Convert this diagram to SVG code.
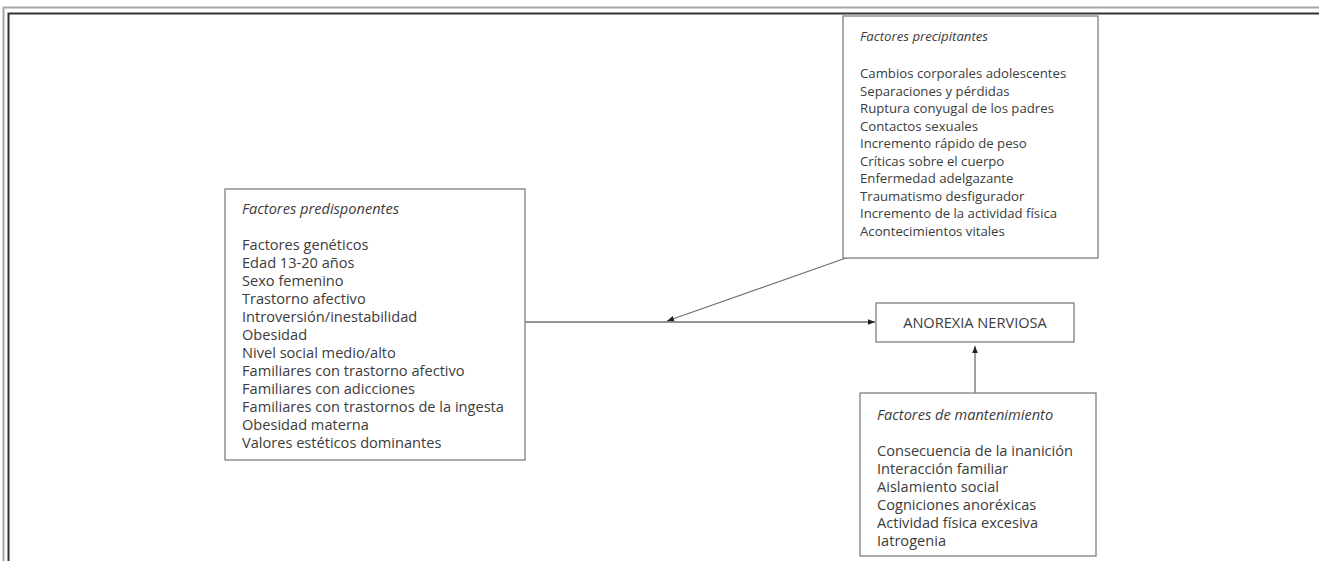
<svg xmlns="http://www.w3.org/2000/svg" width="1319" height="561" viewBox="0 0 1319 561">
<defs>
<style>
.box{fill:#fff;stroke:#7f7f7f;stroke-width:1.3}
.t{font-family:"Open Sans","Noto Sans",sans-serif;font-size:14.6px;fill:#3c3c3c}
.s{font-size:13.2px}
.ti{font-style:italic}
.c{fill:none;stroke:#707070;stroke-width:1.3}
</style>
<marker id="ah" viewBox="0 0 10 10" refX="10" refY="5" markerWidth="8" markerHeight="7" markerUnits="userSpaceOnUse" orient="auto">
<path d="M0,1 L10,5 L0,9 z" fill="#222"/>
</marker>
</defs>
<rect width="1319" height="561" fill="#fff"/>
<g id="frame">
<path d="M3.5,561 V7.5 H1319" fill="none" stroke="#a8a8a8" stroke-width="2"/>
<path d="M8.5,561 V13.5 H1319" fill="none" stroke="#333" stroke-width="2"/>
</g>
<g id="connectors">
<line class="c" x1="525" y1="322" x2="875" y2="322" marker-end="url(#ah)"/>
<line class="c" x1="846" y1="258" x2="667" y2="321" marker-end="url(#ah)"/>
<line class="c" x1="975" y1="393" x2="975" y2="346" marker-end="url(#ah)"/>
</g>
<g id="predisponentes">
<rect class="box" x="225" y="189" width="300" height="271"/>
<text class="t"><tspan class="ti" x="242" y="214">Factores predisponentes</tspan><tspan x="242" y="250">Factores genéticos</tspan><tspan x="242" y="268">Edad 13-20 años</tspan><tspan x="242" y="286">Sexo femenino</tspan><tspan x="242" y="304">Trastorno afectivo</tspan><tspan x="242" y="322">Introversión/inestabilidad</tspan><tspan x="242" y="340">Obesidad</tspan><tspan x="242" y="358">Nivel social medio/alto</tspan><tspan x="242" y="376">Familiares con trastorno afectivo</tspan><tspan x="242" y="394">Familiares con adicciones</tspan><tspan x="242" y="412">Familiares con trastornos de la ingesta</tspan><tspan x="242" y="430">Obesidad materna</tspan><tspan x="242" y="448">Valores estéticos dominantes</tspan></text>
</g>
<g id="precipitantes">
<rect class="box" x="843" y="16" width="255" height="242"/>
<text class="t s"><tspan class="ti" x="860" y="41">Factores precipitantes</tspan><tspan x="860" y="78">Cambios corporales adolescentes</tspan><tspan x="860" y="95.5">Separaciones y pérdidas</tspan><tspan x="860" y="113">Ruptura conyugal de los padres</tspan><tspan x="860" y="130.5">Contactos sexuales</tspan><tspan x="860" y="148">Incremento rápido de peso</tspan><tspan x="860" y="165.5">Críticas sobre el cuerpo</tspan><tspan x="860" y="183">Enfermedad adelgazante</tspan><tspan x="860" y="200.5">Traumatismo desfigurador</tspan><tspan x="860" y="218">Incremento de la actividad física</tspan><tspan x="860" y="235.5">Acontecimientos vitales</tspan></text>
</g>
<g id="anorexia">
<rect class="box" x="876" y="303" width="198" height="39"/>
<text class="t" x="975" y="327.5" text-anchor="middle">ANOREXIA NERVIOSA</text>
</g>
<g id="mantenimiento">
<rect class="box" x="860" y="393" width="236" height="163"/>
<text class="t"><tspan class="ti" x="877" y="420">Factores de mantenimiento</tspan><tspan x="877" y="456">Consecuencia de la inanición</tspan><tspan x="877" y="474">Interacción familiar</tspan><tspan x="877" y="492">Aislamiento social</tspan><tspan x="877" y="510">Cogniciones anoréxicas</tspan><tspan x="877" y="528">Actividad física excesiva</tspan><tspan x="877" y="546">Iatrogenia</tspan></text>
</g>
</svg>
